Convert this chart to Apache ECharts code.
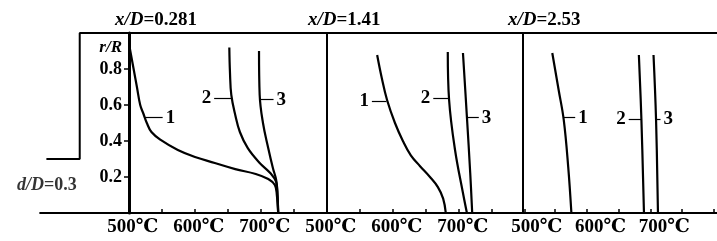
<!DOCTYPE html>
<html><head><meta charset="utf-8">
<script src="https://cdn.jsdelivr.net/npm/echarts@6/dist/echarts.min.js"></script>
<style>html,body{margin:0;padding:0;background:#fff}#c{width:717px;height:241px}</style>
</head><body><div id="c"></div>
<script>
// ---- data ----
const panelXD = ['0.281', '1.41', '2.53'];
const tempTicks = [500, 600, 700];
const rTicks = [0.2, 0.4, 0.6, 0.8];

// panel 1 (x/D = 0.281)
const p1c1_r = [0.92, 0.8, 0.7, 0.6, 0.55, 0.5, 0.45, 0.406, 0.35, 0.311, 0.278, 0.244, 0.217, 0.189, 0.156, 0.1, 0];
const p1c1_T = [501, 507, 512, 517, 522, 527, 534, 548, 574, 600, 630, 661, 692, 711, 721, 724, 726];
const p1c2_r = [0.92, 0.78, 0.656, 0.544, 0.45, 0.36, 0.278, 0.222, 0.172, 0.1, 0];
const p1c2_T = [652, 653, 655, 661, 668, 680, 698, 714, 723, 725, 726];
const p1c3_r = [0.9, 0.656, 0.5, 0.36, 0.25, 0.183, 0.1, 0];
const p1c3_T = [697, 698, 703, 711, 718, 723, 725, 726];
// panel 2 (x/D = 1.41)
const p2c1_r = [0.878, 0.75, 0.628, 0.5, 0.4, 0.32, 0.26, 0.2, 0.144, 0.08, 0];
const p2c1_T = [576, 583, 591, 603, 615, 627, 641, 656, 668, 676, 680];
const p2c2_r = [0.894, 0.628, 0.35, 0.111, 0];
const p2c2_T = [683, 685, 694, 706, 712];
const p2c3_r = [0.889, 0.533, 0.222, 0];
const p2c3_T = [706, 712, 717, 720];
// panel 3 (x/D = 2.53)
const p3c1_r = [0.889, 0.683, 0.517, 0.256, 0];
const p3c1_T = [546, 556, 564, 571, 576];
const p3c2_r = [0.878, 0.517, 0];
const p3c2_T = [682, 686, 690];
const p3c3_r = [0.878, 0.517, 0];
const p3c3_T = [705, 709, 712];

// curve labels: [label, T on curve, T at leader end, r/R]
const p1Leaders = [['1', 523, 551, 0.53], ['2', 655, 629, 0.64], ['3', 698, 719, 0.63]];
const p2Leaders = [['1', 590, 568, 0.62], ['2', 685, 661, 0.64], ['3', 712, 730, 0.53]];
const p3Leaders = [['1', 564, 582, 0.53], ['2', 686, 666, 0.52], ['3', 709, 716, 0.52]];

// pipe geometry (x/D, r/R)
const wallXD = [-0.19, 0, 0, 3.64];
const wallR = [0.3, 0.3, 1, 1];
const centerXD = [-0.23, 3.64];
const centerR = [0, 0];
const ratioLabelPos = [-0.187, 0.156];

// ---- chart ----
const SERIF = "'Liberation Serif','DejaVu Serif','Noto Sans CJK SC',serif";
const zip = (a, b) => a.map((v, i) => [v, b[i]]);
const panels = [
  { left: 129, labelShift: 4, curves: [[p1c1_T, p1c1_r], [p1c2_T, p1c2_r], [p1c3_T, p1c3_r]], leaders: p1Leaders },
  { left: 327, labelShift: 4, curves: [[p2c1_T, p2c1_r], [p2c2_T, p2c2_r], [p2c3_T, p2c3_r]], leaders: p2Leaders },
  { left: 523, labelShift: 14, curves: [[p3c1_T, p3c1_r], [p3c2_T, p3c2_r], [p3c3_T, p3c3_r]], leaders: p3Leaders }
];
const titleLefts = [110, 303, 503];

const grid = [{ left: 0, right: 0, top: 33, height: 180 }];
const xAxis = [{ gridIndex: 0, type: 'value', min: -0.4545, max: 3.633, show: false }];
const yAxis = [{ gridIndex: 0, type: 'value', min: 0, max: 1, show: false }];
const series = [
  { type: 'line', xAxisIndex: 0, yAxisIndex: 0, data: zip(wallXD, wallR), showSymbol: false, silent: true,
    lineStyle: { color: '#000', width: 2 } },
  { type: 'line', xAxisIndex: 0, yAxisIndex: 0, data: zip(centerXD, centerR), showSymbol: false, silent: true,
    lineStyle: { color: '#000', width: 2 } },
  { type: 'scatter', xAxisIndex: 0, yAxisIndex: 0, data: [ratioLabelPos], symbolSize: 0, silent: true,
    label: { show: true, position: 'inside', formatter: '{i|d/D}{n|=0.3}',
      rich: { i: { fontFamily: SERIF, fontStyle: 'italic', fontWeight: 'bold', fontSize: 18, color: '#000' },
              n: { fontFamily: SERIF, fontWeight: 'bold', fontSize: 18, color: '#000' } } } }
];
const title = [];

panels.forEach((p, i) => {
  const gi = i + 1;
  grid.push({ left: p.left, width: 198, top: 33, height: 180 });
  xAxis.push({
    gridIndex: gi, type: 'value', min: 500, max: 800, interval: 50,
    axisLine: { show: true, lineStyle: { color: '#000', width: 2 } },
    axisTick: { show: true, inside: true, length: 4, lineStyle: { color: '#000', width: 1.5 } },
    splitLine: { show: false },
    axisLabel: { show: true, margin: 5, color: '#000', fontFamily: SERIF, fontWeight: 'bold', fontSize: 19,
      padding: [0, 0, 0, 2 * p.labelShift],
      formatter: v => tempTicks.includes(v) ? v + '℃' : '' }
  });
  yAxis.push({
    gridIndex: gi, type: 'value', min: 0, max: 1, interval: 0.2,
    axisLine: { show: true, lineStyle: { color: '#000', width: i === 0 ? 3 : 2 } },
    axisTick: { show: i === 0, inside: false, length: 5, lineStyle: { color: '#000', width: 1.5 } },
    splitLine: { show: false },
    axisLabel: { show: i === 0, margin: 7, color: '#000', fontFamily: SERIF, fontWeight: 'bold', fontSize: 18,
      formatter: v => rTicks.some(t => Math.abs(t - v) < 1e-6) ? v.toFixed(1) : '' },
    name: i === 0 ? 'r/R' : '', nameLocation: 'end', nameGap: -15,
    nameTextStyle: { color: '#000', fontFamily: SERIF, fontStyle: 'italic', fontWeight: 'bold', fontSize: 17,
      align: 'right', verticalAlign: 'middle', padding: [0, 7, 0, 0] }
  });
  p.curves.forEach((c, k) => {
    const ld = p.leaders[k];
    series.push({
      type: 'line', xAxisIndex: gi, yAxisIndex: gi, data: zip(c[0], c[1]), smooth: 0.4,
      showSymbol: false, silent: true, lineStyle: { color: '#000', width: 2.2 },
      markLine: {
        silent: true, symbol: ['none', 'none'], animation: false,
        lineStyle: { color: '#000', width: 1.2, type: 'solid' },
        label: { show: true, position: 'end', distance: 3, color: '#000', fontFamily: SERIF, fontWeight: 'bold',
          fontSize: 19, formatter: ld[0] },
        data: [[{ coord: [ld[1], ld[3]] }, { coord: [ld[2], ld[3]] }]]
      }
    });
  });
  title.push({
    left: titleLefts[i], top: 6,
    text: '{i|x/D}{n|=' + panelXD[i] + '}',
    textStyle: { rich: {
      i: { fontFamily: SERIF, fontStyle: 'italic', fontWeight: 'bold', fontSize: 19, color: '#000' },
      n: { fontFamily: SERIF, fontWeight: 'bold', fontSize: 19, color: '#000' } } }
  });
});

const chart = echarts.init(document.getElementById('c'), null, { renderer: 'canvas' });
chart.setOption({ animation: false, backgroundColor: '#fff', title, grid, xAxis, yAxis, series });
</script></body></html>
